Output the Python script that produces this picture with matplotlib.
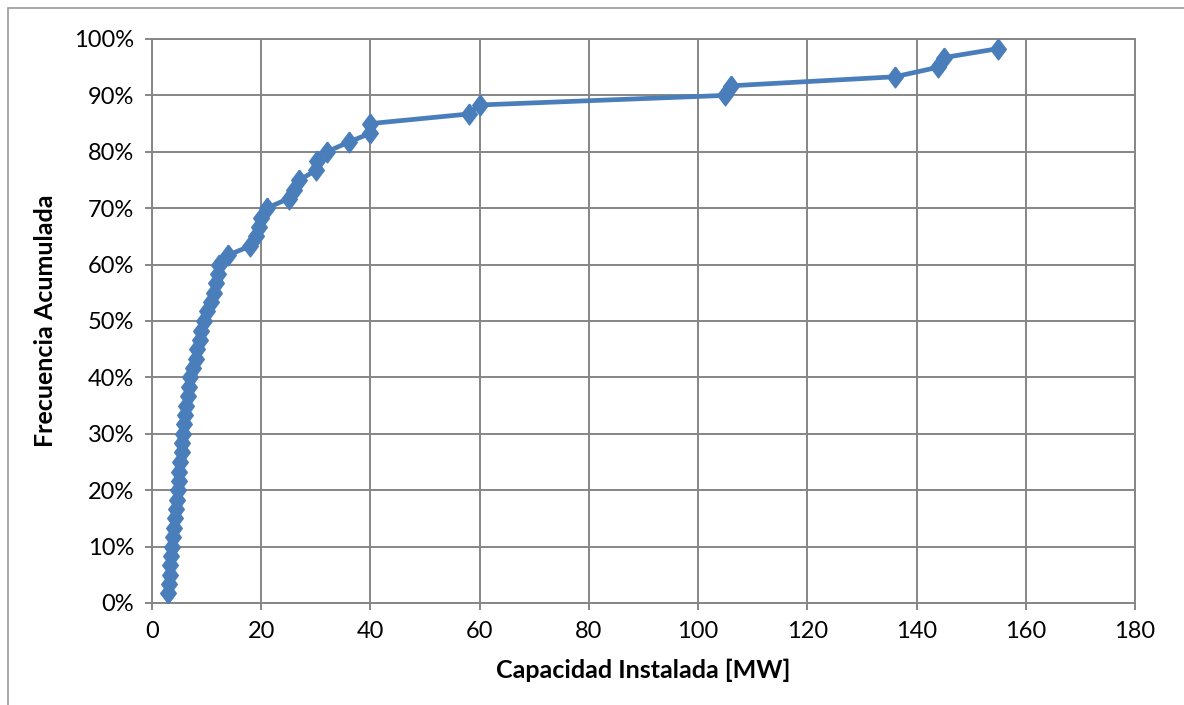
import matplotlib
matplotlib.use('Agg')
import matplotlib.pyplot as plt
from matplotlib.patches import Rectangle
from matplotlib.ticker import PercentFormatter, MultipleLocator

plt.rcParams['font.family'] = ['Lato', 'DejaVu Sans']

# capacidad instalada (MW), ordenada
capacidad = [3.0, 3.1, 3.2, 3.3, 3.5, 3.7, 3.9, 4.0, 4.2, 4.4,
             4.5, 4.7, 4.9, 5.0, 5.2, 5.4, 5.5, 5.7, 5.8, 6.0,
             6.2, 6.5, 6.8, 7.0, 7.5, 8.0, 8.3, 8.7, 9.0, 9.5,
             10.0, 10.8, 11.3, 11.7, 12.0, 12.3, 14.0, 18.0, 19.0, 19.5,
             20.0, 21.0, 25.0, 26.0, 27.0, 30.0, 30.2, 32.0, 36.0, 40.0,
             40.0, 58.0, 60.0, 105.0, 106.0, 136.0, 144.0, 145.0, 155.0]
# frecuencia acumulada (%)
frecuencia = [1.7, 3.3, 5.0, 6.7, 8.3, 10.0, 11.7, 13.3, 15.0, 16.7,
              18.3, 20.0, 21.7, 23.3, 25.0, 26.7, 28.3, 30.0, 31.7, 33.3,
              35.0, 36.7, 38.3, 40.0, 41.7, 43.3, 45.0, 46.7, 48.3, 50.0,
              51.7, 53.3, 55.0, 56.7, 58.3, 60.0, 61.7, 63.3, 65.0, 66.7,
              68.3, 70.0, 71.7, 73.3, 75.0, 76.7, 78.3, 80.0, 81.7, 83.3,
              85.0, 86.7, 88.3, 90.0, 91.7, 93.3, 95.0, 96.7, 98.3]

fig = plt.figure(figsize=(11.84, 7.05), dpi=100)
ax = fig.add_axes([0.1284, 0.1447, 0.8302, 0.8000])

# borde del grafico
fig.patches.append(Rectangle((8 / 1184, -0.05), 1.1, 1 - 8 / 705 + 0.05,
                             transform=fig.transFigure, fill=False,
                             edgecolor='#9a9a9a', linewidth=1.2))

diamond = [(0, 1), (0.75, 0), (0, -1), (-0.75, 0), (0, 1)]
ax.plot(capacidad, frecuencia, color='#4a7ebb', linewidth=3.4,
        marker=diamond, markersize=15, markerfacecolor='#4a7ebb',
        markeredgecolor='#4a7ebb', zorder=3)

ax.set_xlim(0, 180)
ax.set_ylim(0, 100)
ax.xaxis.set_major_locator(MultipleLocator(20))
ax.yaxis.set_major_locator(MultipleLocator(10))
ax.yaxis.set_major_formatter(PercentFormatter(decimals=0))

ax.grid(True, color='#868686', linewidth=1.4)
ax.set_axisbelow(True)
for s in ax.spines.values():
    s.set_color('#868686')
    s.set_linewidth(1.4)
ax.tick_params(axis='both', length=5, width=1.4, color='#868686',
               labelsize=17, pad=8)

ax.set_xlabel('Capacidad Instalada [MW]', fontsize=18, fontweight='bold', labelpad=12)
ax.set_ylabel('Frecuencia Acumulada', fontsize=18, fontweight='bold', labelpad=12)

fig.savefig('out.png', dpi=100)
